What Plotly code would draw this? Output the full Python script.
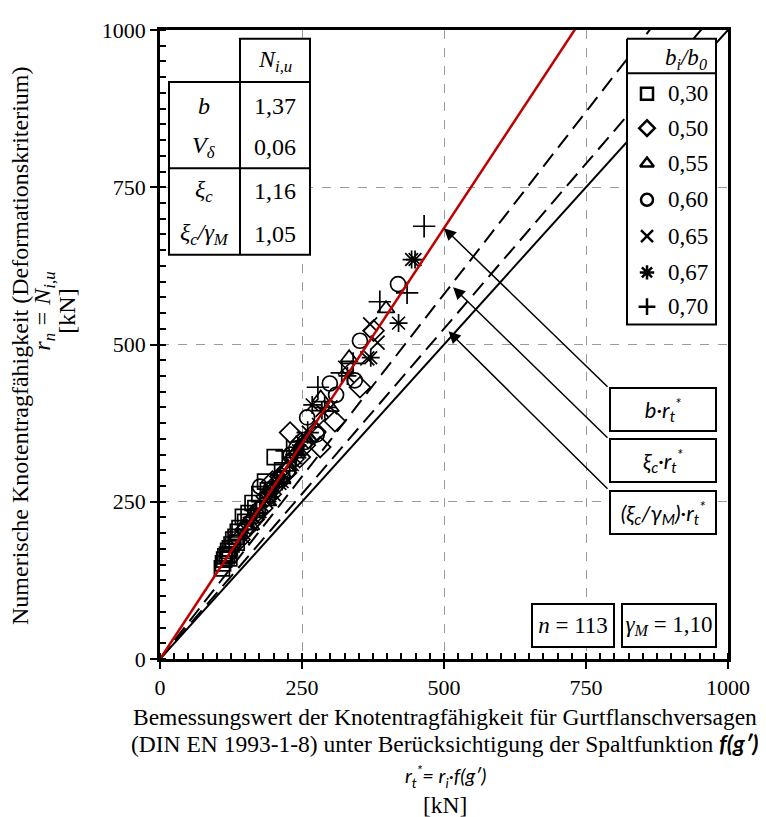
import plotly.graph_objects as go

# ---------------- data ----------------
b_factor = 1.37
v_delta = 0.06
xi_c = 1.16
xi_c_gm = 1.05
n_count = 113
gamma_m = 1.10

x_ticks = [0, 250, 500, 750, 1000]
y_ticks = [0, 250, 500, 750, 1000]

series_labels = ["0,30", "0,50", "0,55", "0,60", "0,65", "0,67", "0,70"]
series_symbols = ["square-open", "diamond-open", "triangle-up-open", "circle-open",
                  "x-thin-open", "asterisk-open", "cross-thin-open"]
series_sizes = [15, 16, 15, 15, 14, 15, 16]

s030_x = [109, 111, 113, 115, 118, 120, 122, 123, 126, 129, 133, 135, 137, 140, 146, 150, 156, 163, 168, 175, 185, 190, 202, 215]
s030_y = [144, 152, 158, 163, 166, 172, 160, 176, 182, 190, 194, 185, 202, 208, 226, 218, 232, 248, 240, 262, 282, 268, 321, 300]

s050_x = [140, 150, 158, 165, 172, 180, 188, 195, 198, 205, 212, 222, 229, 235, 246, 255, 273, 282, 308, 352, 376]
s050_y = [190, 205, 215, 222, 235, 240, 258, 262, 282, 278, 290, 296, 360, 318, 321, 340, 360, 337, 378, 432, 522]

s055_x = [160, 190, 215, 225, 240, 262, 283, 300, 333, 398]
s055_y = [212, 250, 285, 305, 330, 352, 415, 400, 479, 557]

s060_x = [150, 170, 176, 195, 210, 225, 230, 240, 255, 259, 276, 299, 310, 343, 352, 419]
s060_y = [205, 228, 274, 270, 285, 300, 325, 335, 345, 384, 357, 438, 420, 443, 506, 596]

s065_x = [145, 160, 175, 190, 200, 210, 218, 232, 245, 255, 262, 280, 300, 326, 365, 370, 383]
s065_y = [195, 215, 235, 255, 262, 280, 290, 310, 330, 352, 360, 372, 400, 463, 478, 532, 503]

s067_x = [170, 195, 215, 238, 250, 268, 285, 330, 371, 420, 443, 449]
s067_y = [232, 265, 282, 320, 345, 404, 395, 450, 479, 534, 635, 635]

s070_x = [165, 185, 205, 223, 240, 260, 278, 290, 320, 340, 387, 435, 465]
s070_y = [225, 250, 280, 331, 325, 360, 432, 400, 455, 470, 568, 582, 688]

series_x = [s030_x, s050_x, s055_x, s060_x, s065_x, s067_x, s070_x]
series_y = [s030_y, s050_y, s055_y, s060_y, s065_y, s067_y, s070_y]

table_labels = ["<i>b</i>", "<i>V<sub>δ</sub></i>", "<i>ξ<sub>c</sub></i>", "<i>ξ<sub>c</sub>/γ<sub>M</sub></i>"]
table_values = [b_factor, v_delta, xi_c, xi_c_gm]


def de(v, nd=2):
    return f"{v:.{nd}f}".replace(".", ",")


SERIF = "Liberation Serif"
SANS = "Lato"

# ---------------- layout helpers (screen pixel -> paper) ----------------
OFF = 8                      # page body margin of the browser
FW, FH = 766 - OFF, 817 - OFF
L, R, T, B = 160, 728, 18, 659   # plot area in screen pixels
PW, PH = R - L, B - T


def px(x):
    return (x - L) / PW


def py(y):
    return (B - y) / PH


fig = go.Figure()

# reference lines
xr = [0, 1000]
line_specs = [
    (1.0, dict(color="black", width=2, dash="solid")),
    (xi_c_gm, dict(color="black", width=2, dash="16px,8px")),
    (xi_c, dict(color="black", width=2, dash="16px,8px")),
]
for f, ls in line_specs:
    fig.add_trace(go.Scatter(x=xr, y=[v * f for v in xr], mode="lines", line=ls,
                             showlegend=False, hoverinfo="skip"))

# data points
for lab, sym, sz, xs, ys in zip(series_labels, series_symbols, series_sizes, series_x, series_y):
    fig.add_trace(go.Scatter(x=xs, y=ys, mode="markers", name=lab, showlegend=False,
                             marker=dict(symbol=sym, size=sz, color="black",
                                         line=dict(color="black", width=1.7))))

# red line b * r_t
fig.add_trace(go.Scatter(x=xr, y=[v * b_factor for v in xr], mode="lines",
                         line=dict(color="#C00000", width=2.5), showlegend=False, hoverinfo="skip"))

# ---------------- manual legend on overlay axes ----------------
lx0, lx1, ly0, ly1 = px(627), px(716), py(318), py(27)
fig.add_trace(go.Scatter(x=[lx0, lx1, lx1, lx0, lx0], y=[ly1, ly1, ly0, ly0, ly1],
                         mode="lines", fill="toself", fillcolor="white",
                         line=dict(color="black", width=2), xaxis="x2", yaxis="y2",
                         showlegend=False, hoverinfo="skip"))
fig.add_trace(go.Scatter(x=[lx0, lx1], y=[py(62), py(62)], mode="lines",
                         line=dict(color="black", width=2), xaxis="x2", yaxis="y2",
                         showlegend=False, hoverinfo="skip"))
leg_y_px = [83, 118, 154, 191, 228, 265, 300]
fig.add_trace(go.Scatter(x=[px(647)] * len(series_labels), y=[py(v) for v in leg_y_px],
                         mode="markers", xaxis="x2", yaxis="y2", showlegend=False,
                         hoverinfo="skip",
                         marker=dict(symbol=series_symbols, size=12, color="black",
                                     line=dict(color="black", width=2.5))))

annotations = []


def ann(x, y, text, fam=SERIF, size=23, xanchor="center", yanchor="middle", **kw):
    d = dict(x=x, y=y, xref="paper", yref="paper", text=text, showarrow=False,
             xanchor=xanchor, yanchor=yanchor, font=dict(family=fam, size=size, color="black"))
    d.update(kw)
    annotations.append(d)


for lab, yy in zip(series_labels, leg_y_px):
    ann(px(688), py(yy), lab, size=23)
ann(px(709), py(48), "<i>b<sub>i</sub>/b<sub>0</sub></i>", size=23, xanchor="right")

# ---------------- table top-left ----------------
shapes = []
tline = dict(color="black", width=2)
shapes.append(dict(type="rect", xref="paper", yref="paper", x0=px(240), x1=px(310),
                   y0=py(71), y1=py(27), line=tline, fillcolor="white", layer="above"))
shapes.append(dict(type="rect", xref="paper", yref="paper", x0=px(169), x1=px(310),
                   y0=py(247), y1=py(71), line=tline, fillcolor="white", layer="above"))
shapes.append(dict(type="line", xref="paper", yref="paper", x0=px(240), x1=px(240),
                   y0=py(247), y1=py(71), line=tline, layer="above"))
shapes.append(dict(type="line", xref="paper", yref="paper", x0=px(169), x1=px(310),
                   y0=py(159), y1=py(159), line=tline, layer="above"))

ann(px(275), py(50), "<i>N<sub>i,u</sub></i>", size=24)
row_y = [95, 137, 182, 226]
for lab, val, yy in zip(table_labels, table_values, row_y):
    ann(px(204), py(yy), lab, size=24)
    ann(px(275), py(yy), de(val), size=24)

# ---------------- arrow labels ----------------
box_specs = [
    ("<i>b·r<sub>t</sub><sup>*</sup></i>", 405, (500, 500 * b_factor), 383),
    ("<i>ξ<sub>c</sub>·r<sub>t</sub><sup>*</sup></i>", 457, (516, 591), 435),
    ("<i>(ξ<sub>c</sub>/γ<sub>M</sub>)·r<sub>t</sub><sup>*</sup></i>", 509.5, (508, 521), 487),
]
for txt, cy, tip, top in box_specs:
    ann(px(662.5), py(cy), txt, fam=SANS, size=22, width=104, height=41, borderpad=0,
        bordercolor="black", borderwidth=2, bgcolor="white")
    annotations.append(dict(x=tip[0], y=tip[1], xref="x", yref="y",
                            ax=(609 - L) * 1000 / PW, ay=(B - top) * 1000 / PH,
                            axref="x", ayref="y", text="", showarrow=True,
                            arrowhead=2, arrowsize=1.6, arrowwidth=1.5, arrowcolor="black",
                            standoff=0, startstandoff=0))

# ---------------- bottom boxes ----------------
ann(px(572.5), py(625), f"<i>n</i> = {n_count}", size=23, width=80, height=41,
    borderpad=0, bordercolor="black", borderwidth=2, bgcolor="white")
ann(px(668.5), py(625), f"<i>γ<sub>M</sub></i> = {de(gamma_m)}", size=23, width=92, height=41,
    borderpad=0, bordercolor="black", borderwidth=2, bgcolor="white")

# ---------------- axis titles ----------------
xt_lines = [
    ("Bemessungswert der Knotentragfähigkeit für Gurtflanschversagen", 718, SERIF, 23.5),
    ("(DIN EN 1993-1-8) unter Berücksichtigung der Spaltfunktion "
     "<span style='font-family:Lato'><b><i>f(g′)</i></b></span>", 745, SERIF, 23.5),
    ("<i>r<sub>t</sub><sup>*</sup>= r<sub>i</sub>·f(g′)</i>", 778, SANS, 20),
    ("[kN]", 808, SERIF, 23.5),
]
for txt, yy, fam, sz in xt_lines:
    ann(px(445), py(yy), txt, fam=fam, size=sz)

yt_lines = [
    ("Numerische Knotentragfähigkeit (Deformationskriterium)", 20, 340),
    ("<i>r<sub>n</sub> = N<sub>i,u</sub></i>", 44, 305),
    ("[kN]", 67, 305),
]
for txt, xx, yy in yt_lines:
    ann(px(xx), py(yy), txt, size=24, textangle=-90)

axis_common = dict(
    range=[0, 1000], tickvals=x_ticks, ticktext=[str(v) for v in x_ticks],
    showline=True, linecolor="black", linewidth=2.5, mirror=True,
    ticks="outside", ticklen=7, tickwidth=2, tickcolor="black",
    tickfont=dict(family=SERIF, size=22, color="black"),
    showgrid=True, gridcolor="#9a9a9a", gridwidth=1, griddash="dash",
    zeroline=False, fixedrange=True,
    minor=dict(dtick=25, ticks="inside", ticklen=6, tickwidth=2, tickcolor="black", showgrid=False),
)

fig.update_layout(
    width=FW, height=FH,
    margin=dict(l=L - OFF, r=766 - R, t=T - OFF, b=817 - B),
    paper_bgcolor="white", plot_bgcolor="white",
    font=dict(family=SERIF, color="black"),
    xaxis=dict(axis_common),
    yaxis=dict(axis_common, tickvals=y_ticks, ticktext=[str(v) for v in y_ticks]),
    xaxis2=dict(overlaying="x", range=[0, 1], visible=False, fixedrange=True),
    yaxis2=dict(overlaying="y", range=[0, 1], visible=False, fixedrange=True),
    shapes=shapes, annotations=annotations, showlegend=False,
)

fig.write_html("out.html")
